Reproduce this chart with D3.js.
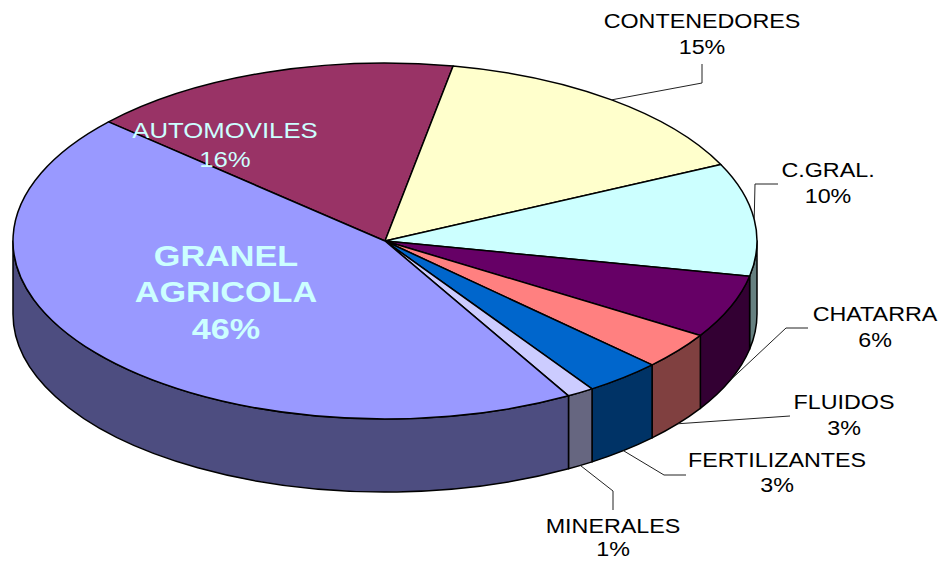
<!DOCTYPE html>
<html><head><meta charset="utf-8">
<style>html,body{margin:0;padding:0;background:#fff}svg{display:block}</style>
<script src="https://cdn.jsdelivr.net/npm/d3@7"></script></head>
<body><svg id="c" width="941" height="561"></svg>
<script>
const categories = ["AUTOMOVILES","CONTENEDORES","C.GRAL.","CHATARRA","FLUIDOS","FERTILIZANTES","MINERALES","GRANEL AGRICOLA"];
const values = [16.49,15.2,10.4,5.8,3.4,3.4,1.2,45.5];
const topColors = ["#993366","#FFFFCC","#CCFFFF","#660066","#FF8080","#0066CC","#CCCCFF","#9999FF"];
const wallColors = ["#4D1A33","#808066","#668080","#330033","#804040","#003366","#666680","#4D4D80"];

const cx = 385, cy = 241, rx = 372, ry = 178, depth = 73;
const startAngle = -48 * Math.PI / 180;
const W = 941, H = 561;

// label layout: text centre, baselines, leader bend points (null = label on the slice)
const layout = {
  "AUTOMOVILES":     {x:225, base:[138,167], size:23, sx:1.12, fill:"#CCFFFF"},
  "CONTENEDORES":    {x:702, base:[28,54],   size:21, sx:1.11, bend:[[702,83],[702,64]], wall:false},
  "C.GRAL.":         {x:828, base:[177,203], size:21, sx:1.11, bend:[[755,184],[778,184]], wall:false},
  "CHATARRA":        {x:875, base:[321,347], size:21, sx:1.11, bend:[[786,328],[808,328]], wall:true},
  "FLUIDOS":         {x:844, base:[409,435], size:21, sx:1.11, bend:[[790,416]], wall:true},
  "FERTILIZANTES":   {x:777, base:[467,492], size:21, sx:1.11, bend:[[664,475],[686,475]], wall:true},
  "MINERALES":       {x:613, base:[533,556], size:21, sx:1.11, bend:[[613,491],[613,510]], wall:true},
  "GRANEL AGRICOLA": {x:226, base:[266,302,339], size:29.5, sx:1.16, fill:"#CCFFFF", bold:true}
};

const svg = d3.select("#c").attr("viewBox",[0,0,W,H]);
const rows = categories.map((name,i)=>({name,value:values[i],top:topColors[i],wall:wallColors[i]}));
const pie = d3.pie().value(d=>d.value).sort(null)
  .startAngle(startAngle).endAngle(startAngle + 2*Math.PI);
const slices = pie(rows);
const P = (a,dy=0)=>[cx + rx*Math.sin(a), cy - ry*Math.cos(a) + dy];

// side walls: only the front half of the rim is visible
const lo = Math.PI/2, hi = 3*Math.PI/2;
function wallPath(d){
  const a0 = Math.max(d.startAngle,lo), a1 = Math.min(d.endAngle,hi);
  if(a1<=a0) return null;
  const [x0,y0]=P(a0),[x1,y1]=P(a1),[x2,y2]=P(a1,depth),[x3,y3]=P(a0,depth);
  return `M${x0},${y0}A${rx},${ry} 0 0 1 ${x1},${y1}L${x2},${y2}A${rx},${ry} 0 0 0 ${x3},${y3}Z`;
}
svg.append("g").selectAll("path")
  .data(slices.filter(d=>wallPath(d)))
  .join("path")
  .attr("d",wallPath)
  .attr("fill",d=>d.data.wall)
  .attr("stroke","#000").attr("stroke-width",1.5).attr("stroke-linejoin","round");

// top face: a circular arc squashed to the ellipse
const arc = d3.arc().innerRadius(0).outerRadius(rx);
svg.append("g")
  .attr("transform",`translate(${cx},${cy}) scale(1,${ry/rx})`)
  .selectAll("path").data(slices).join("path")
  .attr("d",arc)
  .attr("fill",d=>d.data.top)
  .attr("stroke","#000").attr("stroke-width",1.5)
  .attr("stroke-linejoin","round")
  .attr("vector-effect","non-scaling-stroke");

// leader lines start on the rim at each slice's middle angle
const line = d3.line();
svg.append("g").selectAll("path")
  .data(slices.filter(d=>layout[d.data.name].bend))
  .join("path")
  .attr("d",d=>{
    const l = layout[d.data.name], mid=(d.startAngle+d.endAngle)/2;
    return line([P(mid,l.wall?depth:0),...l.bend]);
  })
  .attr("fill","none").attr("stroke","#222").attr("stroke-width",1);

// labels
const pct = d3.format(".0f");
slices.forEach(d=>{
  const l = layout[d.data.name];
  const lines = l.bold ? [...d.data.name.split(" "), pct(d.data.value)+"%"] : [d.data.name, pct(d.data.value)+"%"];
  lines.forEach((t,i)=>{
    svg.append("text")
      .attr("transform",`translate(${l.x},${l.base[i]}) scale(${l.sx},1)`)
      .attr("text-anchor","middle")
      .attr("font-family","'Liberation Sans',Arial,sans-serif")
      .attr("font-size",l.size)
      .attr("font-weight",l.bold?"bold":"normal")
      .attr("fill",l.fill||"#000")
      .text(t);
  });
});
</script></body></html>
